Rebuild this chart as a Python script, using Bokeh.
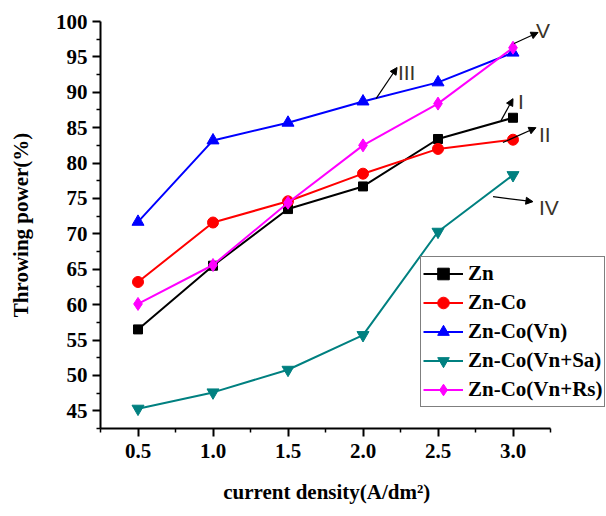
from bokeh.plotting import figure
from bokeh.models import (Range1d, FixedTicker, Legend, LegendItem, Arrow, NormalHead,
                          ColumnDataSource, CustomJSTickFormatter)
from bokeh.embed import file_html
from bokeh.resources import INLINE
from bokeh.core.properties import value

# ---- data ----
current_density = [0.5, 1.0, 1.5, 2.0, 2.5, 3.0]
zn = [56.5, 65.5, 73.5, 76.7, 83.4, 86.4]
zn_co = [63.2, 71.6, 74.6, 78.5, 82.0, 83.3]
zn_co_vn = [71.7, 83.2, 85.7, 88.7, 91.4, 95.6]
zn_co_vn_sa = [45.3, 47.6, 50.8, 55.7, 70.3, 78.3]
zn_co_vn_rs = [60.1, 65.6, 74.4, 82.5, 88.4, 96.3]

series_names = ["Zn", "Zn-Co", "Zn-Co(Vn)", "Zn-Co(Vn+Sa)", "Zn-Co(Vn+Rs)"]
series_values = [zn, zn_co, zn_co_vn, zn_co_vn_sa, zn_co_vn_rs]
series_colors = ["#000000", "#ff0000", "#0000ff", "#008080", "#ff00ff"]
series_markers = ["square", "circle", "triangle", "inverted_triangle", "diamond"]
marker_sizes = [9, 11, 12, 12, 13]

x_ticks = [0.5, 1.0, 1.5, 2.0, 2.5, 3.0]
x_minor = [0.25, 0.75, 1.25, 1.75, 2.25, 2.75, 3.25]
y_ticks = [45, 50, 55, 60, 65, 70, 75, 80, 85, 90, 95, 100]
y_minor = [42.5, 47.5, 52.5, 57.5, 62.5, 67.5, 72.5, 77.5, 82.5, 87.5, 92.5, 97.5]

# annotation labels (roman numerals) and their arrows, in data units
note_text = ["III", "V", "I", "II", "IV"]
note_x = [2.233, 3.153, 3.033, 3.173, 3.173]
note_y = [92.8, 98.7, 88.7, 84.0, 73.7]
arrow_x0 = [2.087, 3.007, 2.92, 2.933, 2.867]
arrow_y0 = [89.1, 96.9, 86.0, 82.9, 75.25]
arrow_x1 = [2.227, 3.167, 3.0, 3.153, 3.133]
arrow_y1 = [93.5, 98.45, 89.1, 85.0, 74.55]

SERIF = "Liberation Serif"

W, H = 605, 515
LEFT, TOP, BOTTOM_Y = 100, 21, 428
x0 = 0.25
px_per_unit = 150.0
x_end = x0 + (W - LEFT) / px_per_unit

p = figure(width=W, height=H, output_backend="svg", toolbar_location=None,
           x_range=Range1d(x0, x_end), y_range=Range1d(42.5, 100),
           min_border_left=LEFT, min_border_right=0, min_border_top=TOP,
           min_border_bottom=H - BOTTOM_Y)
p.outline_line_color = None
p.xgrid.visible = False
p.ygrid.visible = False
p.background_fill_color = "white"
p.border_fill_color = "white"

for ax in (p.xaxis[0], p.yaxis[0]):
    ax.axis_line_width = 2
    ax.axis_line_color = "black"
    ax.major_tick_line_width = 2
    ax.minor_tick_line_width = 1.5
    ax.major_tick_out = 8
    ax.major_tick_in = 0
    ax.minor_tick_out = 4
    ax.minor_tick_in = 0
    ax.major_label_text_font = SERIF
    ax.major_label_text_font_style = "bold"
    ax.major_label_text_font_size = "21px"
    ax.major_label_text_color = "black"
    ax.axis_label_text_font = SERIF
    ax.axis_label_text_font_style = "bold"
    ax.axis_label_text_font_size = "21px"
    ax.axis_label_text_color = "black"

p.xaxis.bounds = (0.25, 3.25)
p.xaxis.ticker = FixedTicker(ticks=x_ticks, minor_ticks=x_minor)
p.yaxis.ticker = FixedTicker(ticks=y_ticks, minor_ticks=y_minor)
p.xaxis.formatter = CustomJSTickFormatter(code="return tick.toFixed(1);")
p.xaxis.major_label_standoff = 7
p.yaxis.major_label_standoff = 5
# trailing no-break spaces shift the centred label left, over the drawn axis
p.xaxis.axis_label = "current density(A/dm\u00b2)" + "\u00a0" * 10
p.yaxis.axis_label = "Throwing power(%)"
p.xaxis.axis_label_standoff = 19
p.yaxis.axis_label_standoff = 20

items = []
for name, vals, col, mk, ms in zip(series_names, series_values, series_colors, series_markers, marker_sizes):
    src = ColumnDataSource(dict(x=current_density, y=vals))
    ln = p.line("x", "y", source=src, line_color=col, line_width=2)
    sc = p.scatter("x", "y", source=src, marker=mk, size=ms, fill_color=col, line_color=col)
    items.append(LegendItem(label=name, renderers=[ln, sc]))

legend = Legend(items=items, location=(320, 21), orientation="vertical",
                label_text_font=SERIF, label_text_font_style="bold", label_text_font_size="21px",
                label_text_color="black", glyph_width=40, glyph_height=29, label_height=29,
                label_standoff=5, spacing=0, padding=2, margin=0,
                border_line_color="black", border_line_width=1.5, background_fill_alpha=1)
p.add_layout(legend, "center")

for xs, ys, xe, ye in zip(arrow_x0, arrow_y0, arrow_x1, arrow_y1):
    p.add_layout(Arrow(x_start=xs, y_start=ys, x_end=xe, y_end=ye, line_color="black", line_width=1.2,
                       end=NormalHead(size=7, fill_color="black", line_color="black")))

p.text(x=note_x, y=note_y, text=note_text, text_font=value("Liberation Sans"),
       text_font_size="21px", text_color="#3a3328", text_align="left", text_baseline="middle")

open("out.html", "w").write(file_html(p, INLINE))
